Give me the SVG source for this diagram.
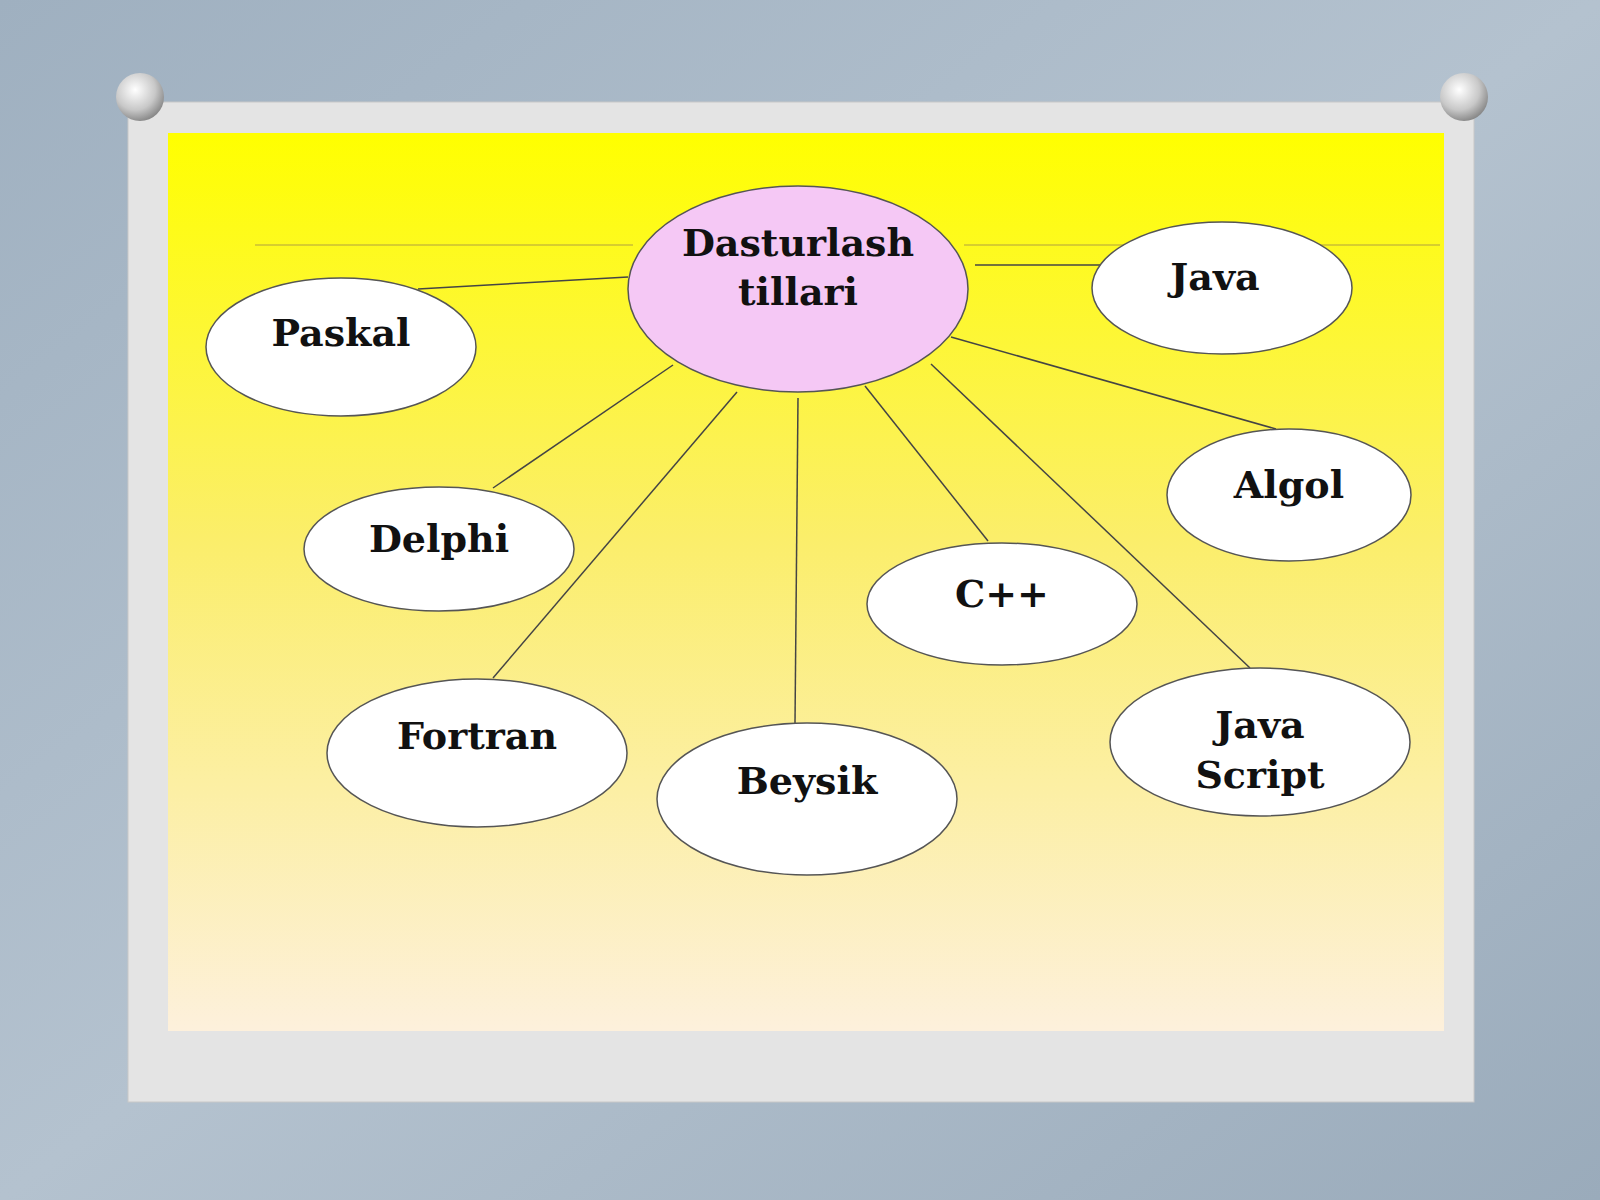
<svg xmlns="http://www.w3.org/2000/svg" width="1600" height="1200" viewBox="0 0 1600 1200">
<defs>
<linearGradient id="bg" x1="0" y1="0" x2="1" y2="1"><stop offset="0" stop-color="#9fb0c0"/><stop offset="0.5" stop-color="#b4c2cf"/><stop offset="1" stop-color="#9aabbb"/></linearGradient>
<linearGradient id="yl" x1="0" y1="0" x2="0" y2="1"><stop offset="0" stop-color="#ffff00"/><stop offset="0.45" stop-color="#fbee6a"/><stop offset="1" stop-color="#fdf0dc"/></linearGradient>
<radialGradient id="pin" cx="0.4" cy="0.35" r="0.7"><stop offset="0" stop-color="#ffffff"/><stop offset="0.6" stop-color="#c8c8c8"/><stop offset="1" stop-color="#808080"/></radialGradient>
<style>
.n{stroke:#555;stroke-width:1.5;fill:#fff}
.t{font-family:"DejaVu Serif","Liberation Serif",serif;font-weight:bold;font-size:38px;fill:#111;text-anchor:middle}
.c line{stroke:#444;stroke-width:1.5}
</style>
</defs>
<rect width="1600" height="1200" fill="url(#bg)"/>
<rect x="128" y="102" width="1346" height="1000" fill="#e4e4e4" stroke="#c8c8c8"/>
<rect x="168" y="133" width="1276" height="898" fill="url(#yl)"/>
<line x1="255" y1="245" x2="633" y2="245" stroke="#b0a040" stroke-width="1"/>
<line x1="964" y1="245" x2="1440" y2="245" stroke="#b0a040" stroke-width="1"/>
<circle cx="140" cy="97" r="24" fill="url(#pin)"/>
<circle cx="1464" cy="97" r="24" fill="url(#pin)"/>
<g class="c" id="connectors">
<line x1="418" y1="289" x2="628" y2="277"/>
<line x1="975" y1="265" x2="1110" y2="265"/>
<line x1="493" y1="488" x2="673" y2="365"/>
<line x1="493" y1="678" x2="737" y2="392"/>
<line x1="798" y1="398" x2="795" y2="723"/>
<line x1="865" y1="386" x2="988" y2="541"/>
<line x1="931" y1="364" x2="1250" y2="668"/>
<line x1="951" y1="337" x2="1276" y2="429"/>
</g>
<g id="center"><ellipse cx="798" cy="289" rx="170" ry="103" fill="#f5c8f5" stroke="#555" stroke-width="1.5"/><text class="t" x="798" y="256">Dasturlash</text><text class="t" x="798" y="305">tillari</text></g>
<g id="java"><ellipse class="n" cx="1222" cy="288" rx="130" ry="66"/><text class="t" x="1215" y="290">Java</text></g>
<g id="paskal"><ellipse class="n" cx="341" cy="347" rx="135" ry="69"/><text class="t" x="341" y="346">Paskal</text></g>
<g id="algol"><ellipse class="n" cx="1289" cy="495" rx="122" ry="66"/><text class="t" x="1289" y="498">Algol</text></g>
<g id="delphi"><ellipse class="n" cx="439" cy="549" rx="135" ry="62"/><text class="t" x="439" y="552">Delphi</text></g>
<g id="cpp"><ellipse class="n" cx="1002" cy="604" rx="135" ry="61"/><text class="t" x="1002" y="607">C++</text></g>
<g id="fortran"><ellipse class="n" cx="477" cy="753" rx="150" ry="74"/><text class="t" x="477" y="749">Fortran</text></g>
<g id="beysik"><ellipse class="n" cx="807" cy="799" rx="150" ry="76"/><text class="t" x="807" y="794">Beysik</text></g>
<g id="javascript"><ellipse class="n" cx="1260" cy="742" rx="150" ry="74"/><text class="t" x="1260" y="738">Java</text><text class="t" x="1260" y="788">Script</text></g>
</svg>
